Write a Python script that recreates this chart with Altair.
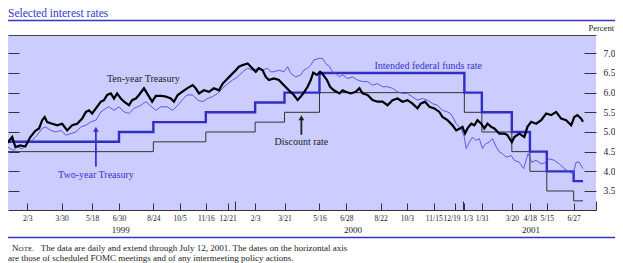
import altair as alt
import pandas as pd

SERIF = "Liberation Serif"
BLUE = "#3535cc"
LIGHTBLUE = "#4c4ce0"
INK = "#222222"

# ---------------- data ----------------
# Ten-year Treasury: days since 1999-01-01, yield (percent)
ten_days = [1, 9, 14, 22, 30, 38, 46, 52, 57, 61,
            65, 73, 81, 89, 97, 105, 113, 121, 127, 132,
            137, 143, 151, 156, 161, 167, 172, 177, 183, 188,
            196, 201, 207, 212, 220, 225, 233, 239, 247, 255,
            263, 268, 274, 281, 289, 298, 303, 308, 316, 324,
            332, 340, 346, 354, 362, 367, 372, 378, 386, 391,
            399, 404, 410, 415, 420, 428, 436, 444, 452, 460,
            466, 471, 476, 482, 487, 491, 497, 502, 507, 513,
            518, 524, 533, 538, 543, 551, 559, 565, 570, 578,
            586, 594, 602, 610, 618, 626, 634, 642, 650, 658,
            663, 670, 677, 685, 693, 698, 706, 714, 720, 725,
            730, 734, 738, 744, 749, 754, 760, 765, 770, 776,
            781, 789, 797, 802, 809, 813, 821, 829, 834, 840,
            848, 856, 864, 872, 880, 888, 896, 904, 909, 914,
            920, 923]
ten_vals = [4.72, 4.87, 4.62, 4.66, 4.63, 4.87, 5.03, 5.09, 5.30, 5.38,
            5.25, 5.21, 5.17, 5.21, 5.04, 5.17, 5.21, 5.34, 5.51, 5.55,
            5.47, 5.60, 5.77, 5.81, 5.94, 5.98, 5.85, 5.98, 5.85, 5.77,
            5.68, 5.81, 5.85, 5.94, 6.11, 5.98, 5.77, 5.92, 5.92, 5.90,
            5.85, 5.77, 5.94, 6.02, 6.11, 6.19, 6.11, 5.98, 6.06, 6.02,
            6.11, 6.06, 6.23, 6.36, 6.49, 6.57, 6.66, 6.70, 6.74, 6.66,
            6.53, 6.62, 6.57, 6.40, 6.32, 6.36, 6.32, 6.19, 6.06, 5.94,
            5.81, 5.90, 6.00, 6.15, 6.32, 6.51, 6.45, 6.53, 6.45, 6.32,
            6.15, 6.06, 5.98, 6.06, 6.02, 5.98, 6.02, 6.11, 5.98, 5.94,
            5.81, 5.77, 5.77, 5.68, 5.81, 5.85, 5.77, 5.81, 5.72, 5.60,
            5.72, 5.77, 5.64, 5.60, 5.51, 5.38, 5.30, 5.17, 5.04, 5.08,
            5.13, 4.96, 5.09, 5.21, 5.17, 5.30, 5.21, 5.09, 5.21, 5.13,
            5.09, 4.96, 4.96, 4.92, 4.74, 4.87, 4.96, 4.87, 5.13, 5.26,
            5.21, 5.30, 5.47, 5.43, 5.51, 5.34, 5.30, 5.17, 5.38, 5.43,
            5.34, 5.26]

# Two-year Treasury: days since 1999-01-01, yield (percent)
two_days = [1, 12, 17, 25, 33, 41, 49, 57, 62, 71,
            79, 87, 95, 103, 111, 119, 127, 135, 143, 151,
            159, 164, 172, 180, 188, 196, 204, 215, 223, 231,
            239, 247, 257, 266, 274, 281, 289, 298, 306, 314,
            322, 330, 338, 346, 354, 362, 370, 378, 386, 394,
            402, 410, 418, 423, 428, 436, 444, 450, 455, 463,
            471, 476, 482, 487, 492, 500, 506, 511, 517, 522,
            527, 533, 538, 546, 554, 562, 570, 578, 586, 594,
            602, 610, 618, 626, 634, 642, 650, 658, 666, 674,
            682, 690, 698, 706, 712, 720, 728, 733, 736, 741,
            746, 751, 757, 762, 767, 773, 778, 784, 789, 794,
            800, 808, 813, 821, 828, 835, 841, 848, 856, 864,
            869, 877, 885, 893, 901, 907, 912, 917, 923]
two_vals = [4.62, 4.53, 4.62, 4.57, 4.70, 4.79, 4.92, 5.09, 5.13, 5.04,
            5.00, 5.04, 4.92, 4.96, 5.00, 5.13, 5.17, 5.26, 5.30, 5.51,
            5.60, 5.64, 5.55, 5.64, 5.51, 5.47, 5.60, 5.68, 5.77, 5.66,
            5.55, 5.64, 5.64, 5.55, 5.68, 5.81, 5.94, 5.94, 5.81, 5.77,
            5.85, 5.90, 5.98, 6.11, 6.23, 6.32, 6.40, 6.53, 6.62, 6.57,
            6.62, 6.57, 6.62, 6.53, 6.53, 6.57, 6.53, 6.66, 6.49, 6.40,
            6.45, 6.57, 6.62, 6.70, 6.83, 6.87, 6.87, 6.74, 6.66, 6.53,
            6.49, 6.40, 6.45, 6.36, 6.40, 6.32, 6.28, 6.28, 6.19, 6.23,
            6.15, 6.15, 6.11, 6.02, 5.98, 5.98, 5.89, 5.81, 5.85, 5.81,
            5.72, 5.68, 5.55, 5.51, 5.45, 5.21, 5.08, 4.87, 4.58, 4.74,
            4.87, 4.79, 4.83, 4.58, 4.70, 4.74, 4.83, 4.62, 4.49, 4.45,
            4.36, 4.40, 4.28, 4.23, 4.07, 4.45, 4.23, 4.28, 4.19, 4.23,
            4.32, 4.28, 4.19, 4.07, 3.98, 3.94, 4.23, 4.23, 4.07]

# Intended federal funds rate (step changes)
ff_dates = ["1999-01-01", "1999-06-30", "1999-08-24", "1999-11-16", "2000-02-03",
            "2000-03-21", "2000-05-16", "2001-01-03", "2001-01-31", "2001-03-20",
            "2001-04-18", "2001-05-15", "2001-06-27", "2001-07-12"]
ff_vals = [4.75, 5.00, 5.25, 5.50, 5.75, 6.00, 6.50, 6.00, 5.50, 5.00, 4.50, 4.00, 3.75, 3.75]

# Discount rate (step changes)
dr_dates = ["1999-01-01", "1999-08-24", "1999-11-16", "2000-02-03", "2000-03-21",
            "2000-05-16", "2001-01-03", "2001-01-31", "2001-03-20", "2001-04-18",
            "2001-05-15", "2001-06-27", "2001-07-12"]
dr_vals = [4.50, 4.75, 5.00, 5.25, 5.50, 6.00, 5.50, 5.00, 4.50, 4.00, 3.50, 3.25, 3.25]

# Axis tick positions / labels
fomc_dates = [(1999, 2, 3), (1999, 3, 30), (1999, 5, 18), (1999, 6, 30), (1999, 8, 24),
              (1999, 10, 5), (1999, 11, 16), (1999, 12, 21), (2000, 2, 3), (2000, 3, 21),
              (2000, 5, 16), (2000, 6, 28), (2000, 8, 22), (2000, 10, 3), (2000, 11, 15),
              (2000, 12, 19), (2001, 1, 3), (2001, 1, 31), (2001, 3, 20), (2001, 4, 18),
              (2001, 5, 15), (2001, 6, 27)]
year_breaks = [(2000, 1, 1), (2001, 1, 1), (2001, 8, 1)]
year_label_at = [(1999, 7, 2), (2000, 7, 8), (2001, 4, 19)]
y_ticks = [3.5, 4.0, 4.5, 5.0, 5.5, 6.0, 6.5, 7.0]

# Annotations (anchored in data coordinates)
ann_labels = ["Ten-year Treasury", "Intended federal funds rate", "Discount rate", "Two-year Treasury"]
ann_dates = ["1999-08-08", "2000-11-06", "2000-04-17", "1999-05-24"]
ann_vals = [6.34, 6.68, 4.745, 3.91]
ann_colors = [INK, BLUE, INK, BLUE]

arrow_dates = ["2000-04-17", "1999-05-24"]
arrow_from = [4.93, 4.12]
arrow_to = [5.36, 5.07]
arrow_colors = [INK, BLUE]

title_text = "Selected interest rates"
note_line1 = "The data are daily and extend through July 12, 2001. The dates on the horizontal axis"
note_line2 = "are those of scheduled FOMC meetings and of any intermeeting policy actions."

# ---------------- frames ----------------
base = pd.Timestamp("1999-01-01")
ten_df = pd.DataFrame({"date": base + pd.to_timedelta(ten_days, unit="D"), "value": ten_vals})
two_df = pd.DataFrame({"date": base + pd.to_timedelta(two_days, unit="D"), "value": two_vals})
ff_df = pd.DataFrame({"date": pd.to_datetime(ff_dates), "value": ff_vals})
dr_df = pd.DataFrame({"date": pd.to_datetime(dr_dates), "value": dr_vals})
ann_df = pd.DataFrame({"date": pd.to_datetime(ann_dates), "value": ann_vals,
                       "label": ann_labels, "color": ann_colors})
arr_df = pd.DataFrame({"date": pd.to_datetime(arrow_dates), "v0": arrow_from,
                       "v1": arrow_to, "color": arrow_colors})


def dt(t):
    return alt.DateTime(year=t[0], month=t[1], date=t[2])


W, H = 588, 175
xscale = alt.Scale(domain=[alt.DateTime(year=1999, month=1, date=3, hours=6),
                           alt.DateTime(year=2001, month=8, date=1, hours=19)])
yscale = alt.Scale(domain=[3.017, 7.465], nice=False, zero=False)

common_axis = dict(grid=False, title=None, labelFont=SERIF, labelColor=INK,
                   tickColor="#333333", tickWidth=1, labelOverlap=False,
                   labelFlush=False, labelBound=False)

IS_1219 = "month(datum.value) == 11 && date(datum.value) == 19"
IS_0103 = "year(datum.value) == 2001 && month(datum.value) == 0 && date(datum.value) == 3"

ax_fomc = alt.Axis(orient="bottom", values=[dt(t) for t in fomc_dates],
                   format="%-m/%-d", formatType="time", offset=-7, tickSize=7,
                   domain=False, labelFontSize=7.5, labelPadding=4,
                   labelAlign={"condition": [{"test": IS_1219, "value": "right"},
                                             {"test": IS_0103, "value": "left"}],
                               "value": "center"},
                   labelOffset={"condition": [{"test": IS_1219, "value": 5},
                                              {"test": IS_0103, "value": -1.5}],
                                "value": 0},
                   **common_axis)
ax_years_ticks = alt.Axis(orient="bottom", values=[dt(t) for t in year_breaks],
                          offset=-9, tickSize=9, domain=False, labels=False, **common_axis)
ax_year_labels = alt.Axis(orient="bottom", values=[dt(t) for t in year_label_at],
                          labelExpr="timeFormat(datum.value, '%Y')", tickSize=0,
                          domain=True, domainColor="#333333", domainWidth=1,
                          labelFontSize=9, labelPadding=15, **common_axis)
ax_top = alt.Axis(orient="top", domain=True, domainColor="#444444", domainWidth=1,
                  ticks=False, labels=False, grid=False, title=None)
ax_right = alt.Axis(orient="right", values=y_ticks, format=".1f", offset=-12, tickSize=12,
                    domain=False, labelFontSize=9.5, labelPadding=7, **common_axis)
ax_left = alt.Axis(orient="left", values=y_ticks, offset=-11, tickSize=11,
                   domain=False, labels=False, **common_axis)

discount = alt.Chart(dr_df).mark_line(interpolate="step-after", color="#333333",
                                      strokeWidth=1, clip=True).encode(
    x=alt.X("date:T", scale=xscale, axis=ax_fomc),
    y=alt.Y("value:Q", scale=yscale, axis=ax_right))

fedfunds = alt.Chart(ff_df).mark_line(interpolate="step-after", color="#2f2fc4",
                                      strokeWidth=2.4, clip=True).encode(
    x=alt.X("date:T", scale=xscale, axis=ax_years_ticks),
    y=alt.Y("value:Q", scale=yscale, axis=ax_left))

twoyear = alt.Chart(two_df).mark_line(color=LIGHTBLUE, strokeWidth=0.9, clip=True).encode(
    x=alt.X("date:T", scale=xscale, axis=ax_year_labels),
    y=alt.Y("value:Q", scale=yscale, axis=None))

tenyear = alt.Chart(ten_df).mark_line(color="#000000", strokeWidth=2.2, clip=True).encode(
    x=alt.X("date:T", scale=xscale, axis=ax_top),
    y=alt.Y("value:Q", scale=yscale, axis=None))

ann = alt.Chart(ann_df).mark_text(font=SERIF, fontSize=10, align="center",
                                  baseline="middle").encode(
    x=alt.X("date:T", scale=xscale, axis=None),
    y=alt.Y("value:Q", scale=yscale, axis=None),
    text="label:N", color=alt.Color("color:N", scale=None))

arrows = alt.Chart(arr_df).mark_rule(strokeWidth=1.8).encode(
    x=alt.X("date:T", scale=xscale, axis=None),
    y=alt.Y("v0:Q", scale=yscale, axis=None), y2="v1:Q",
    color=alt.Color("color:N", scale=None))

heads = alt.Chart(arr_df).mark_point(shape="triangle-up", filled=True, size=32,
                                     opacity=1).encode(
    x=alt.X("date:T", scale=xscale, axis=None),
    y=alt.Y("v1:Q", scale=yscale, axis=None),
    color=alt.Color("color:N", scale=None))

# page decorations (fixed layout, not data)
one = pd.DataFrame({"t": [0]})
title = alt.Chart(one).mark_text(text=title_text, font=SERIF, fontSize=11.5, color=BLUE,
                                 align="left", baseline="alphabetic").encode(
    x=alt.value(0), y=alt.value(-18.5))
rule_top = alt.Chart(one).mark_rule(color=BLUE, strokeWidth=1.3).encode(
    x=alt.value(0), x2=alt.value(607), y=alt.value(-14.5))
percent = alt.Chart(one).mark_text(text="Percent", font=SERIF, fontSize=8.5, color=INK,
                                   align="left", baseline="middle").encode(
    x=alt.value(580.5), y=alt.value(-6.7))
rule_bot = alt.Chart(one).mark_rule(color=BLUE, strokeWidth=1.3).encode(
    x=alt.value(0), x2=alt.value(607), y=alt.value(202.5))
note_n = alt.Chart(one).mark_text(text="N", font=SERIF, fontSize=9, color=INK,
                                  align="left", baseline="alphabetic").encode(
    x=alt.value(4), y=alt.value(216))
note_ote = alt.Chart(one).mark_text(text="OTE.", font=SERIF, fontSize=7, color=INK,
                                    align="left", baseline="alphabetic").encode(
    x=alt.value(10.6), y=alt.value(216))
note_1 = alt.Chart(one).mark_text(text=note_line1, font=SERIF, fontSize=9, color=INK,
                                  align="left", baseline="alphabetic").encode(
    x=alt.value(32.7), y=alt.value(216))
note_2 = alt.Chart(one).mark_text(text=note_line2, font=SERIF, fontSize=9, color=INK,
                                  align="left", baseline="alphabetic").encode(
    x=alt.value(0), y=alt.value(226))

chart = alt.layer(
    discount, fedfunds, twoyear, tenyear, ann, arrows, heads,
    title, rule_top, percent, rule_bot, note_n, note_ote, note_1, note_2
).resolve_axis(x="independent", y="independent").properties(
    width=W, height=H,
    autosize=alt.AutoSizeParams(type="none"),
    padding={"left": 0, "top": 27, "right": 19, "bottom": 53},
    background="#ffffff",
).configure_view(stroke=None, fill="#ccccff")

chart.save("out.html", embed_options={"renderer": "svg", "actions": False})
